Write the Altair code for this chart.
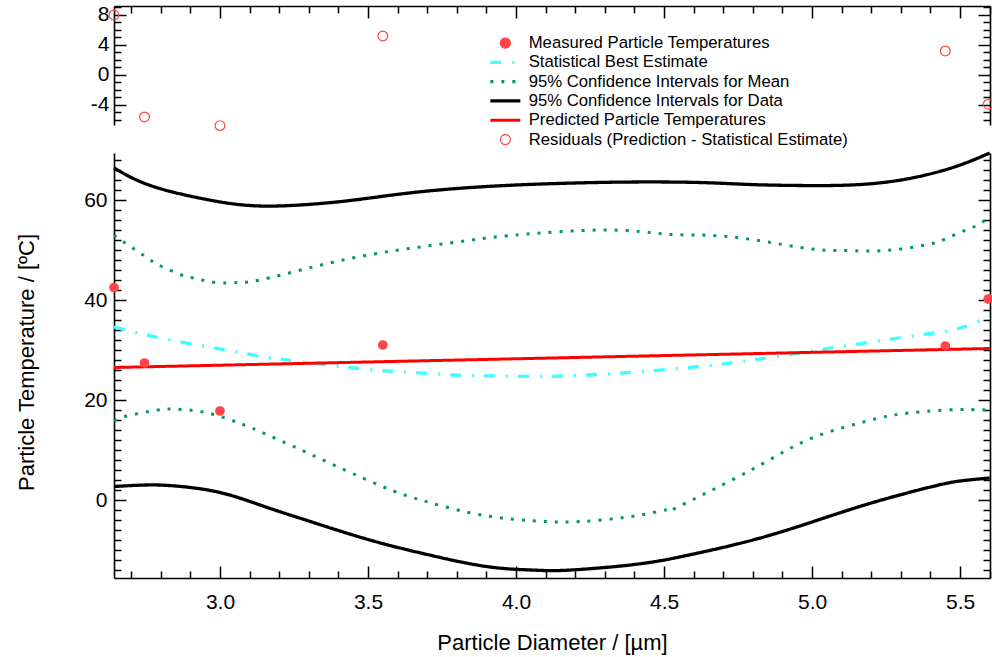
import altair as alt
import pandas as pd

FONT = "Liberation Sans"

SERIES = [
    "Measured Particle Temperatures",
    "Statistical Best Estimate",
    "95% Confidence Intervals for Mean",
    "95% Confidence Intervals for Data",
    "Predicted Particle Temperatures",
    "Residuals (Prediction - Statistical Estimate)",
]
COLORS = ["#ff4545", "#3dffff", "#00995a", "#000000", "#ff0000", "#ff4545"]
FILLS = ["#ff4545", "transparent", "transparent", "transparent", "transparent", "transparent"]
SHAPES = ["circle", "M-3,0H3", "M-3,0H3", "M-3,0H3", "M-3,0H3", "circle"]
DASHES = [[1, 0], [11, 11, 2, 10], [3, 8], [1, 0], [1, 0], [1, 0]]

# measured temperatures and residuals
meas_x = [2.642, 2.745, 3.0, 3.55, 5.45, 5.595]
meas_y = [42.5, 27.4, 17.8, 31.0, 30.8, 40.2]
resid_y = [8.0, -5.6, -6.75, 5.2, 3.2, -3.9]

# 95% confidence intervals for data
cid_up_x = [2.642, 2.76, 2.93, 3.10, 3.27, 3.44, 3.61, 3.80, 4.00, 4.20, 4.40,
            4.62, 4.79, 4.96, 5.13, 5.30, 5.47, 5.60]
cid_up_y = [66.4, 63.0, 60.4, 58.9, 59.0, 59.9, 61.2, 62.3, 63.0, 63.4, 63.6,
            63.5, 63.1, 62.9, 63.0, 64.0, 66.4, 69.4]
cid_lo_x = [2.642, 2.75, 2.85, 3.0, 3.15, 3.3, 3.5, 3.7, 3.9, 4.05, 4.15,
            4.3, 4.45, 4.6, 4.8, 5.0, 5.2, 5.4, 5.5, 5.6]
cid_lo_y = [2.7, 3.0, 2.8, 1.5, -1.3, -4.2, -7.9, -10.9, -13.3, -14.0, -14.1,
            -13.5, -12.5, -10.8, -8.0, -4.4, -0.6, 2.6, 3.8, 4.4]

# 95% confidence intervals for mean
cim_up_x = [2.642, 2.685, 2.76, 2.80, 2.87, 2.91, 2.985, 3.06, 3.135, 3.3, 3.5,
            3.7, 3.85, 4.0, 4.3, 4.5, 4.62, 4.73, 4.85, 5.0, 5.1, 5.2, 5.3,
            5.4, 5.45, 5.52, 5.56, 5.6]
cim_up_y = [52.9, 51.2, 48.2, 46.8, 45.0, 44.4, 43.5, 43.5, 44.0, 46.4, 49.0,
            50.8, 52.0, 53.0, 54.0, 53.2, 53.0, 52.6, 51.6, 50.2, 49.9, 49.8, 50.2,
            51.2, 52.2, 54.0, 55.0, 56.6]
cim_lo_x = [2.642, 2.685, 2.76, 2.80, 2.835, 2.91, 2.985, 3.06, 3.135, 3.3, 3.54,
            3.69, 3.84, 3.98, 4.10, 4.16, 4.22, 4.29, 4.365, 4.44, 4.52, 4.55,
            4.8, 5.0, 5.2, 5.3, 5.45, 5.6]
cim_lo_y = [15.9, 16.8, 17.7, 18.1, 18.2, 17.9, 17.0, 15.5, 13.7, 9.3, 2.9,
            -0.2, -2.5, -3.8, -4.3, -4.4, -4.3, -4.0, -3.5, -2.8, -1.9, -1.3,
            6.2, 12.4, 16.0, 17.2, 18.0, 18.0]

# statistical best estimate
best_x = [2.642, 2.8, 3.0, 3.2, 3.47, 3.59, 3.71, 3.83, 3.94, 4.06, 4.16, 4.27,
          4.38, 4.6, 4.8, 5.0, 5.2, 5.4, 5.5, 5.6]
best_y = [34.6, 32.4, 30.2, 28.2, 26.3, 25.7, 25.3, 24.9, 24.8, 24.7, 24.8, 25.1,
          25.5, 26.6, 28.0, 29.8, 31.6, 33.3, 34.4, 36.6]

# predicted temperatures
pred_x = [2.642, 5.6]
pred_y = [26.5, 30.3]

# axis tick positions
x_major = [3.0, 3.5, 4.0, 4.5, 5.0, 5.5]
x_all = [round(2.7 + 0.1 * i, 1) for i in range(30)]
ybot_major = [0, 20, 40, 60]
ybot_all = [-14 + 2 * i for i in range(42)]
ytop_major = [-4, 0, 4, 8]
ytop_all = [-6 + i for i in range(16)]

W, H = 876, 572
xscale = alt.Scale(domain=[2.642, 5.601], nice=False, zero=False)
ybot = alt.Scale(domain=[-15.6, 69.4], range=[572, 147], nice=False, zero=False)
ytop = alt.Scale(domain=[-6.67, 9.2], range=[119, 0], nice=False, zero=False)
cscale = alt.Scale(domain=SERIES, range=COLORS)
fscale = alt.Scale(domain=SERIES, range=FILLS)
sscale = alt.Scale(domain=SERIES, range=SHAPES)
dscale = alt.Scale(domain=SERIES, range=DASHES)

X_MAJ = "abs(datum.value*2 - round(datum.value*2)) < 0.01"
YB_MAJ = "abs(datum.value/20 - round(datum.value/20)) < 0.01"
YT_MAJ = "abs(datum.value/4 - round(datum.value/4)) < 0.01"
NEG = "datum.value < 0 ? '-' + (-datum.value) : '' + datum.value"
INTERP = "natural"


def tick_axis(orient, values, test, offset, domain=False):
    return alt.Axis(orient=orient, offset=offset, values=values, labels=False,
                    domain=domain, domainColor="black", domainWidth=1.6,
                    ticks=True, tickColor="black", tickWidth=1.5,
                    tickSize={"condition": {"test": test, "value": 12}, "value": 7},
                    grid=False, title=None)


def df_of(xs, ys, series, part="a"):
    return pd.DataFrame({"x": xs, "y": ys, "series": series, "part": part})


legend = alt.Legend(
    orient="none", legendX=383, legendY=28.7, title=None, padding=0,
    labelFont=FONT, labelFontSize=16.7, labelColor="black", labelOffset=15,
    labelLimit=600, symbolSize=100, symbolOpacity=1,
    symbolStrokeWidth={"expr": "datum.value === 'Measured Particle Temperatures' || "
                               "datum.value === 'Residuals (Prediction - Statistical Estimate)'"
                               " ? 1.2 : 3.2"},
    rowPadding=1.3,
)


def color_enc():
    return alt.Color("series:N", scale=cscale, legend=legend)


def dash_enc():
    return alt.StrokeDash("series:N", scale=dscale, legend=legend)


black_df = pd.concat([df_of(cid_up_x, cid_up_y, SERIES[3], "up"),
                      df_of(cid_lo_x, cid_lo_y, SERIES[3], "lo")])
green_df = pd.concat([df_of(cim_up_x, cim_up_y, SERIES[2], "up"),
                      df_of(cim_lo_x, cim_lo_y, SERIES[2], "lo")])
cyan_df = df_of(best_x, best_y, SERIES[1])
red_df = df_of(pred_x, pred_y, SERIES[4])
meas_df = df_of(meas_x, meas_y, SERIES[0])
resid_df = df_of(meas_x, resid_y, SERIES[5])

x_label_axis = alt.Axis(
    orient="bottom", values=x_major, format=".1f", ticks=False, tickSize=0,
    domain=True, domainColor="black", domainWidth=1.6, grid=False,
    labelFont=FONT, labelFontSize=21, labelColor="black", labelPadding=13,
    title="Particle Diameter / [µm]", titleFont=FONT, titleFontSize=22,
    titleFontWeight="normal", titleColor="black", titleX=438, titleY=71,
    titleAlign="center", titleBaseline="alphabetic")
ybot_label_axis = alt.Axis(
    orient="left", values=ybot_major, labelExpr=NEG, ticks=False, tickSize=0,
    domain=True, domainColor="black", domainWidth=1.6, grid=False,
    labelFont=FONT, labelFontSize=21, labelColor="black", labelPadding=7,
    title="Particle Temperature / [ºC]", titleFont=FONT, titleFontSize=22,
    titleFontWeight="normal", titleColor="black", titleX=-81, titleY=356,
    titleAngle=270, titleAlign="center", titleBaseline="alphabetic")
ytop_label_axis = alt.Axis(
    orient="left", values=ytop_major, labelExpr=NEG, ticks=False, tickSize=0,
    domain=True, domainColor="black", domainWidth=1.6, grid=False,
    labelFont=FONT, labelFontSize=21, labelColor="black", labelPadding=5,
    title=None)

black = alt.Chart(black_df).mark_line(strokeWidth=3.3, interpolate=INTERP).encode(
    x=alt.X("x:Q", scale=xscale, axis=x_label_axis),
    y=alt.Y("y:Q", scale=ybot, axis=ybot_label_axis),
    color=color_enc(), strokeDash=dash_enc(),
    detail="part:N")

green = alt.Chart(green_df).mark_line(
    strokeWidth=3, strokeCap="butt", interpolate=INTERP).encode(
    x=alt.X("x:Q", scale=xscale, axis=tick_axis("top", x_all, X_MAJ, -H)),
    y=alt.Y("y:Q", scale=ybot, axis=tick_axis("right", ybot_all, YB_MAJ, -W)),
    color=color_enc(), strokeDash=dash_enc(),
    detail="part:N")

cyan = alt.Chart(cyan_df).mark_line(strokeWidth=3.3, interpolate=INTERP).encode(
    x=alt.X("x:Q", scale=xscale, axis=tick_axis("bottom", x_all, X_MAJ, -H, True)),
    y=alt.Y("y:Q", scale=ybot, axis=tick_axis("left", ybot_all, YB_MAJ, -W, True)),
    color=color_enc(), strokeDash=dash_enc())

red = alt.Chart(red_df).mark_line(strokeWidth=3).encode(
    x=alt.X("x:Q", scale=xscale, axis=None),
    y=alt.Y("y:Q", scale=ybot, axis=None),
    color=color_enc(), strokeDash=dash_enc())

meas = alt.Chart(meas_df).mark_point(filled=True, size=95, opacity=1, strokeWidth=0).encode(
    x=alt.X("x:Q", scale=xscale, axis=None),
    y=alt.Y("y:Q", scale=ybot, axis=None),
    color=color_enc(),
    fill=alt.Fill("series:N", scale=fscale, legend=legend),
    shape=alt.Shape("series:N", scale=sscale, legend=legend))

resid = alt.Chart(resid_df).mark_point(filled=False, size=95, strokeWidth=1.2, opacity=1).encode(
    x=alt.X("x:Q", scale=xscale, axis=None),
    y=alt.Y("y:Q", scale=ytop, axis=ytop_label_axis),
    color=color_enc(),
    fill=alt.Fill("series:N", scale=fscale, legend=legend),
    shape=alt.Shape("series:N", scale=sscale, legend=legend))

resid_ticks = alt.Chart(resid_df).mark_point(opacity=0).encode(
    x=alt.X("x:Q", scale=xscale, axis=None),
    y=alt.Y("y:Q", scale=ytop, axis=tick_axis("right", ytop_all, YT_MAJ, -W)))

resid_border = alt.Chart(resid_df).mark_point(opacity=0).encode(
    x=alt.X("x:Q", scale=xscale, axis=None),
    y=alt.Y("y:Q", scale=ytop, axis=tick_axis("left", ytop_all, YT_MAJ, -W, True)))

chart = alt.layer(
    black, green, cyan, red, meas, resid, resid_ticks, resid_border
).resolve_scale(
    y="independent"
).resolve_axis(
    x="independent", y="independent"
).properties(
    width=W, height=H,
    autosize=alt.AutoSizeParams(type="none"),
    padding={"left": 114, "top": 6, "right": 2, "bottom": 79},
).configure(font=FONT).configure_view(strokeWidth=0)

chart.save("out.html", embed_options={"renderer": "svg", "actions": False})
